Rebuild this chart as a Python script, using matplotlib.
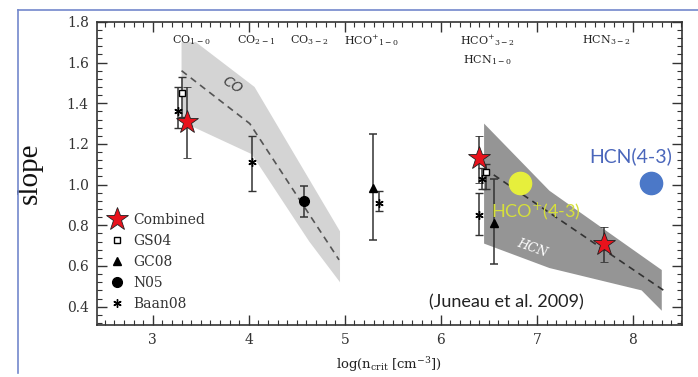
import numpy as np
import matplotlib
matplotlib.use("Agg")
import matplotlib.pyplot as plt
from matplotlib.lines import Line2D
from matplotlib.ticker import MultipleLocator

plt.rcParams["mathtext.fontset"] = "dejavuserif"

# === data ===
# Combined (red stars)
comb_x = [3.36, 6.40, 7.70]
comb_y = [1.31, 1.13, 0.71]
comb_lo = [1.13, 1.01, 0.62]
comb_hi = [1.48, 1.24, 0.79]

# GS04 (open squares)
gs04_x = [3.30, 6.47]
gs04_y = [1.45, 1.06]
gs04_lo = [1.33, 0.98]
gs04_hi = [1.53, 1.10]

# GC08 (triangles)
gc08_x = [5.29, 6.55]
gc08_y = [0.985, 0.81]
gc08_lo = [0.73, 0.61]
gc08_hi = [1.25, 1.03]

# N05 (circles)
n05_x = [4.58]
n05_y = [0.92]
n05_lo = [0.84]
n05_hi = [0.995]

# Baan08 (asterisks)
baan_x = [3.26, 4.03, 5.36, 6.43, 6.40]
baan_y = [1.36, 1.11, 0.91, 1.03, 0.85]
baan_lo = [1.28, 0.97, 0.87, 0.98, 0.75]
baan_hi = [1.48, 1.24, 0.97, 1.08, 0.96]

# model bands
co_up_x = [3.30, 3.45, 4.06, 4.95]
co_up_y = [1.70, 1.70, 1.48, 0.77]
co_low_x = [3.30, 4.03, 4.63, 4.95]
co_low_y = [1.31, 1.15, 0.72, 0.52]
co_line_x = [3.30, 4.01, 4.94]
co_line_y = [1.56, 1.30, 0.63]

hcn_up_x = [6.45, 7.13, 8.30]
hcn_up_y = [1.30, 0.97, 0.58]
hcn_low_x = [6.45, 7.13, 8.09, 8.30]
hcn_low_y = [0.71, 0.59, 0.48, 0.38]
hcn_line_x = [6.45, 8.32]
hcn_line_y = [1.08, 0.48]

# new points
hco43 = (6.82, 1.01)
hcn43 = (8.19, 1.01)

# transition labels
trans_x = [3.40, 4.08, 4.63, 5.28, 6.48, 6.48, 7.72]
trans_y = [1.71, 1.71, 1.71, 1.71, 1.71, 1.61, 1.71]
trans_txt = [r"CO$_{1-0}$", r"CO$_{2-1}$", r"CO$_{3-2}$", r"HCO$^{+}$$_{1-0}$",
             r"HCO$^{+}$$_{3-2}$", r"HCN$_{1-0}$", r"HCN$_{3-2}$"]


def err(y, lo, hi):
    y = np.array(y)
    return [y - np.array(lo), np.array(hi) - y]


fig = plt.figure(figsize=(6.98, 3.77), dpi=100)
ax = fig.add_axes([0.139, 0.138, 0.838, 0.804])

# bands
xs = co_up_x + co_low_x[::-1]
ys = co_up_y + co_low_y[::-1]
ax.fill(xs, ys, color="#d4d4d4", lw=0, zorder=1)
ax.plot(co_line_x, co_line_y, ls=(0, (4, 3)), color="#555555", lw=1.2, zorder=2)
xs = hcn_up_x + hcn_low_x[::-1]
ys = hcn_up_y + hcn_low_y[::-1]
ax.fill(xs, ys, color="#959595", lw=0, zorder=1)
ax.plot(hcn_line_x, hcn_line_y, ls=(0, (4, 3)), color="#333333", lw=1.2, zorder=2)

ax.text(3.83, 1.49, "CO", fontsize=10, style="italic", color="#444444",
        rotation=-32, ha="center", va="center", zorder=2)
ax.text(6.95, 0.69, "HCN", fontsize=9, style="italic", color="white",
        rotation=-20, ha="center", va="center", zorder=2, family="DejaVu Serif")

ekw = dict(ecolor="#333333", elinewidth=1.1, capsize=3, capthick=1.1, ls="none", zorder=3)
ax.errorbar(gs04_x, gs04_y, yerr=err(gs04_y, gs04_lo, gs04_hi), marker="s", ms=5,
            mfc="white", mec="black", mew=1, label="GS04", **ekw)
ax.errorbar(gc08_x, gc08_y, yerr=err(gc08_y, gc08_lo, gc08_hi), marker="^", ms=6,
            mfc="black", mec="black", label="GC08", **ekw)
ax.errorbar(n05_x, n05_y, yerr=err(n05_y, n05_lo, n05_hi), marker="o", ms=7,
            mfc="black", mec="black", label="N05", **ekw)
ax.errorbar(baan_x, baan_y, yerr=err(baan_y, baan_lo, baan_hi), marker=(6, 2, 0), ms=6,
            mfc="black", mec="black", mew=1, label="Baan08", **ekw)
ax.errorbar(comb_x, comb_y, yerr=err(comb_y, comb_lo, comb_hi), marker="*", ms=17,
            mfc="#e8121c", mec="#222222", mew=0.6, label="Combined", **ekw)

ax.plot(*hco43, "o", ms=16, color="#e6ef3c", zorder=4)
ax.plot(*hcn43, "o", ms=16, color="#4b78c8", zorder=4)
ax.text(6.99, 0.87, r"HCO$^{+}$(4-3)", fontsize=13, color="#d6e03a", family="Lato",
        ha="center", va="center", zorder=5)
ax.text(7.98, 1.14, "HCN(4-3)", fontsize=14, color="#4a66bb", family="Lato",
        ha="center", va="center", zorder=5)
ax.text(6.68, 0.42, "(Juneau et al. 2009)", fontsize=13, color="#222222",
        family="Lato", ha="center", va="center", zorder=5)

for tx, ty, s in zip(trans_x, trans_y, trans_txt):
    ax.text(tx, ty, s, fontsize=8, family="DejaVu Serif", color="#222222",
            ha="center", va="center", zorder=5)

ax.set_xlim(2.42, 8.51)
ax.set_ylim(0.31, 1.8)
ax.xaxis.set_major_locator(MultipleLocator(1))
ax.xaxis.set_minor_locator(MultipleLocator(0.1))
ax.yaxis.set_major_locator(MultipleLocator(0.2))
ax.yaxis.set_minor_locator(MultipleLocator(0.04))
ax.tick_params(which="both", direction="in", top=True, right=True, color="#333333")
ax.tick_params(which="major", length=7, width=1, pad=6, labelsize=10, labelcolor="#333333")
ax.tick_params(which="minor", length=3.5, width=0.8)
for lab in ax.get_xticklabels() + ax.get_yticklabels():
    lab.set_family("DejaVu Serif")
for sp in ax.spines.values():
    sp.set_color("#333333")
    sp.set_linewidth(1.2)

ax.set_ylabel("slope", fontsize=21, family="Liberation Serif", color="#111111")
ax.yaxis.set_label_coords(-0.092, 0.5)
ax.set_xlabel(r"log(n$_{\rm crit}$ [cm$^{-3}$])", fontsize=9.5, family="DejaVu Serif",
              color="#222222")
ax.xaxis.set_label_coords(0.5, -0.10)

handles, labels = ax.get_legend_handles_labels()
order = [4, 0, 1, 2, 3]
leg = ax.legend([handles[i][0] for i in order], [labels[i] for i in order],
                loc="upper left", bbox_to_anchor=(0.02, 0.37), frameon=False,
                borderaxespad=0, borderpad=0, handlelength=1.2, handletextpad=0.6,
                labelspacing=0.5, prop={"family": "DejaVu Serif", "size": 10})
for t in leg.get_texts():
    t.set_color("#333333")

# slide frame lines
fig.add_artist(Line2D([0.026, 1.0], [0.973, 0.973], color="#7388cc", lw=1.2))
fig.add_artist(Line2D([0.026, 0.026], [0.973, 0.01], color="#7388cc", lw=1.2))

fig.savefig("out.png", dpi=100)
